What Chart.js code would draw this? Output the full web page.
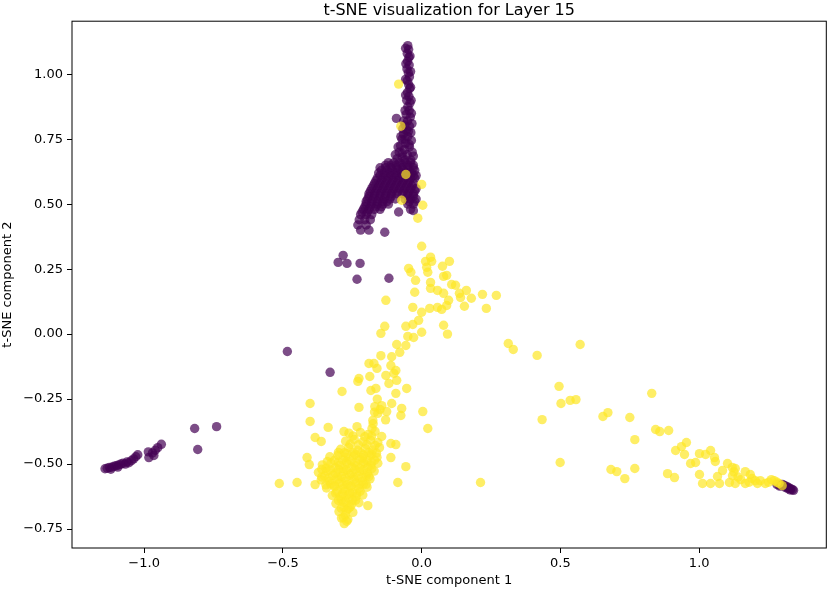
<!DOCTYPE html>
<html>
<head>
<meta charset="utf-8">
<script src="https://cdn.jsdelivr.net/npm/chart.js@4/dist/chart.umd.min.js"></script>
<style>
  body { margin: 0; background: #fff; }
  #wrap { width: 831px; height: 591px; }
</style>
</head>
<body>
<div id="wrap"><canvas id="myChart"></canvas></div>
<script>
// t-SNE points, grouped by region
const purpleTower = [
  [-0.050,1.110],[-0.047,1.095],[-0.052,1.080],[-0.046,1.065],[-0.051,1.050],[-0.045,1.035],[-0.053,1.020],
  [-0.048,1.005],[-0.044,0.990],[-0.052,0.975],[-0.047,0.960],[-0.043,0.945],[-0.051,0.930],[-0.046,0.915],
  [-0.054,0.900],[-0.042,0.890],[-0.050,0.875],[-0.045,0.860],[-0.056,0.845],[-0.041,0.835],[-0.051,0.820],
  [-0.060,0.805],[-0.044,0.800],[-0.055,0.785],[-0.039,0.775],[-0.066,0.770],[-0.050,0.760],[-0.071,0.750],
  [-0.037,0.745],[-0.058,0.735],[-0.076,0.725],[-0.044,0.720],[-0.062,0.710],[-0.081,0.700],[-0.034,0.700],
  [-0.052,0.690],[-0.070,0.680],[-0.088,0.675],[-0.039,0.670],[-0.091,0.830],
  [-0.058,1.100],[-0.042,1.070],[-0.057,1.040],[-0.040,1.010],[-0.058,0.980],[-0.040,0.950],[-0.058,0.920],
  [-0.038,0.900],[-0.060,0.860],[-0.037,0.850],[-0.065,0.820],[-0.035,0.810],[-0.068,0.790],[-0.048,0.780],
  [-0.075,0.760],[-0.060,0.750],[-0.045,0.730],[-0.085,0.720],[-0.070,0.695],[-0.095,0.690],[-0.030,0.685],
  [-0.060,0.670],
  [-0.12,0.66],[-0.10,0.66],[-0.08,0.66],[-0.06,0.66],[-0.04,0.66],
  [-0.13,0.65],[-0.11,0.65],[-0.09,0.65],[-0.07,0.65],[-0.05,0.65],[-0.03,0.65],
  [-0.15,0.64],[-0.13,0.64],[-0.11,0.64],[-0.09,0.64],[-0.07,0.64],[-0.05,0.64],[-0.03,0.64],
  [-0.145,0.63],[-0.125,0.63],[-0.105,0.63],[-0.085,0.63],[-0.065,0.63],[-0.045,0.63],
  [-0.155,0.62],[-0.135,0.62],[-0.115,0.62],[-0.095,0.62],[-0.075,0.62],[-0.055,0.62],[-0.035,0.62],
  [-0.15,0.61],[-0.13,0.61],[-0.11,0.61],[-0.09,0.61],[-0.07,0.61],[-0.05,0.61],[-0.03,0.61],
  [-0.16,0.60],[-0.14,0.60],[-0.12,0.60],[-0.10,0.60],[-0.08,0.60],[-0.06,0.60],[-0.04,0.60],[-0.025,0.60],
  [-0.165,0.59],[-0.145,0.59],[-0.125,0.59],[-0.105,0.59],[-0.085,0.59],[-0.065,0.59],[-0.045,0.59],
  [-0.17,0.58],[-0.15,0.58],[-0.13,0.58],[-0.11,0.58],[-0.09,0.58],[-0.07,0.58],[-0.05,0.58],[-0.03,0.58],
  [-0.175,0.57],[-0.155,0.57],[-0.135,0.57],[-0.115,0.57],[-0.095,0.57],[-0.075,0.57],[-0.055,0.57],[-0.035,0.57],
  [-0.18,0.56],[-0.16,0.56],[-0.14,0.56],[-0.12,0.56],[-0.10,0.56],[-0.08,0.56],[-0.06,0.56],[-0.04,0.56],[-0.02,0.56],
  [-0.185,0.55],[-0.165,0.55],[-0.145,0.55],[-0.125,0.55],[-0.105,0.55],[-0.085,0.55],[-0.065,0.55],[-0.045,0.55],[-0.025,0.55],
  [-0.19,0.54],[-0.17,0.54],[-0.15,0.54],[-0.13,0.54],[-0.11,0.54],[-0.09,0.54],[-0.07,0.54],[-0.05,0.54],[-0.03,0.54],
  [-0.19,0.53],[-0.17,0.53],[-0.15,0.53],[-0.13,0.53],[-0.11,0.53],[-0.05,0.53],[-0.03,0.53],
  [-0.195,0.52],[-0.175,0.52],[-0.155,0.52],[-0.135,0.52],[-0.115,0.52],[-0.095,0.52],[-0.06,0.52],[-0.04,0.52],[-0.02,0.52],
  [-0.20,0.51],[-0.18,0.51],[-0.16,0.51],[-0.14,0.51],[-0.125,0.51],[-0.045,0.51],[-0.025,0.51],
  [-0.20,0.50],[-0.18,0.50],[-0.16,0.50],[-0.14,0.50],[-0.12,0.50],[-0.05,0.50],[-0.03,0.50],
  [-0.205,0.49],[-0.185,0.49],[-0.165,0.49],[-0.145,0.49],
  [-0.21,0.48],[-0.19,0.48],[-0.17,0.48],[-0.15,0.48],[-0.04,0.48],
  [-0.215,0.47],[-0.195,0.47],
  [-0.22,0.46],[-0.20,0.46],[-0.18,0.46],
  [-0.225,0.44],[-0.205,0.44],[-0.185,0.44],
  [-0.23,0.42],[-0.20,0.42],[-0.22,0.40],[-0.19,0.40],
  [-0.133,0.392],[-0.083,0.47],[-0.025,0.63],[-0.02,0.61],[-0.03,0.475]
];
const purpleStray = [
  [-0.283,0.303],[-0.301,0.276],[-0.269,0.272],[-0.222,0.272],[-0.233,0.211],[-0.118,0.215],
  [-0.484,-0.067],[-0.330,-0.147]
];
const purpleLeftArm = [
  [-1.141,-0.518],[-1.133,-0.516],[-1.125,-0.513],[-1.116,-0.512],[-1.108,-0.508],[-1.100,-0.506],
  [-1.092,-0.503],[-1.084,-0.500],[-1.076,-0.497],[-1.068,-0.500],[-1.062,-0.492],[-1.055,-0.495],
  [-1.046,-0.487],[-1.038,-0.480],[-1.030,-0.472],[-1.023,-0.464],[-1.120,-0.520],[-1.095,-0.512],
  [-0.985,-0.453],[-0.983,-0.475],[-0.970,-0.457],[-0.965,-0.467],[-0.951,-0.437],[-0.938,-0.424],
  [-0.960,-0.447],[-0.818,-0.363],[-0.807,-0.444],[-0.739,-0.356]
];
const purpleTip = [
  [1.280,-0.578],[1.290,-0.585],[1.300,-0.578],[1.306,-0.582],[1.312,-0.585],[1.318,-0.588],
  [1.324,-0.592],[1.330,-0.595],[1.336,-0.599],[1.340,-0.601],[1.310,-0.590],[1.320,-0.595],
  [1.295,-0.583],[1.328,-0.600]
];

const yellowInTower = [
  [-0.083,0.962],[-0.075,0.800],[-0.057,0.614],[-0.072,0.515],[0.000,0.576],[0.004,0.496],
  [-0.014,0.446],[0.000,0.338]
];
const yellowStream = [
  [0.032,0.296],[0.036,0.280],[0.014,0.280],[0.100,0.280],[0.075,0.261],[0.018,0.257],[-0.047,0.253],
  [-0.039,0.238],[0.022,0.238],[0.079,0.222],[0.090,0.226],[-0.022,0.207],[0.032,0.199],[0.108,0.191],
  [0.122,0.188],[0.032,0.176],[0.057,0.168],[-0.025,0.161],[0.079,0.157],[0.136,0.157],[0.161,0.168],
  [0.219,0.153],[0.269,0.149],[0.179,0.138],[0.140,0.141],[0.097,0.130],[0.090,0.110],[0.154,0.107],
  [0.233,0.099],[0.057,0.103],[0.072,0.095],[0.029,0.099],[-0.032,0.103],[0.000,0.084],[-0.129,0.130],
  [-0.011,0.053],[-0.032,0.037],[-0.057,0.030],[0.079,0.034],[0.093,0.000],[0.000,0.007],[-0.029,-0.013],
  [-0.050,-0.009],[-0.090,-0.040],[-0.057,-0.044],[-0.079,-0.070],[-0.133,0.030],[-0.147,0.003],
  [-0.147,-0.083],[-0.108,-0.087],[0.312,-0.036],[0.330,-0.059],[0.416,-0.082],[0.571,-0.040]
];
const yellowDownStream = [
  [-0.190,-0.113],[-0.172,-0.113],[-0.161,-0.132],[-0.111,-0.121],[-0.093,-0.140],[-0.129,-0.159],
  [-0.226,-0.171],[-0.187,-0.163],[-0.230,-0.182],[-0.100,-0.151],[-0.090,-0.178],[-0.118,-0.190],
  [-0.054,-0.209],[-0.165,-0.209],[-0.183,-0.217],[-0.093,-0.228],[-0.287,-0.221],[-0.402,-0.267],
  [-0.226,-0.282],[-0.169,-0.279],[-0.144,-0.275],[-0.108,-0.267],[-0.072,-0.286],[-0.126,-0.298],
  [-0.075,-0.313],[-0.158,-0.305],[0.004,-0.298],[-0.402,-0.336],[-0.176,-0.332],[-0.179,-0.363],
  [-0.337,-0.359],[-0.233,-0.356],[0.022,-0.363],[-0.280,-0.375],[-0.384,-0.398],[-0.362,-0.413],
  [-0.144,-0.394],[-0.111,-0.421],[-0.093,-0.425],[-0.413,-0.475],[-0.405,-0.502],[-0.111,-0.475],
  [-0.057,-0.510],[-0.449,-0.571],[-0.513,-0.575],[-0.384,-0.579],[-0.086,-0.571],[-0.194,-0.660],
  [-0.160,-0.250],[-0.170,-0.300],[-0.175,-0.345],[-0.150,-0.290],[-0.130,-0.330]
];
const yellowBlob = [
  [-0.262,-0.381],[-0.221,-0.378],[-0.193,-0.386],[-0.168,-0.374],
  [-0.274,-0.412],[-0.243,-0.405],[-0.212,-0.414],[-0.184,-0.408],[-0.158,-0.417],
  [-0.292,-0.443],[-0.263,-0.436],[-0.231,-0.447],[-0.203,-0.440],[-0.176,-0.446],[-0.152,-0.437],
  [-0.331,-0.472],[-0.302,-0.466],[-0.274,-0.474],[-0.245,-0.469],[-0.214,-0.476],[-0.186,-0.468],[-0.161,-0.474],
  [-0.358,-0.503],[-0.327,-0.497],[-0.296,-0.505],[-0.268,-0.499],[-0.239,-0.506],[-0.209,-0.498],[-0.183,-0.504],[-0.158,-0.497],
  [-0.372,-0.532],[-0.342,-0.527],[-0.311,-0.535],[-0.283,-0.529],[-0.254,-0.536],[-0.224,-0.528],[-0.196,-0.534],[-0.171,-0.527],
  [-0.362,-0.561],[-0.333,-0.566],[-0.302,-0.558],[-0.273,-0.565],[-0.243,-0.559],[-0.214,-0.566],[-0.186,-0.557],
  [-0.343,-0.592],[-0.314,-0.587],[-0.284,-0.595],[-0.254,-0.588],[-0.226,-0.594],[-0.197,-0.589],
  [-0.322,-0.621],[-0.294,-0.626],[-0.265,-0.618],[-0.236,-0.625],[-0.212,-0.619],
  [-0.309,-0.652],[-0.281,-0.647],[-0.252,-0.655],[-0.226,-0.649],
  [-0.298,-0.683],[-0.271,-0.678],[-0.248,-0.686],
  [-0.289,-0.708],[-0.266,-0.713],[-0.279,-0.729],
  [-0.315,-0.486],[-0.285,-0.484],[-0.255,-0.488],[-0.225,-0.483],[-0.197,-0.487],[-0.170,-0.485],
  [-0.345,-0.516],[-0.312,-0.514],[-0.282,-0.518],[-0.252,-0.513],[-0.223,-0.517],[-0.194,-0.512],
  [-0.350,-0.546],[-0.320,-0.544],[-0.289,-0.548],[-0.259,-0.543],[-0.229,-0.547],[-0.200,-0.545],
  [-0.328,-0.576],[-0.298,-0.574],[-0.268,-0.578],[-0.238,-0.573],[-0.210,-0.577],
  [-0.305,-0.606],[-0.277,-0.604],[-0.248,-0.608],[-0.222,-0.605],
  [-0.290,-0.637],[-0.262,-0.634],[-0.238,-0.639],[-0.280,-0.667],[-0.258,-0.665],[-0.275,-0.697],
  [-0.248,-0.392],[-0.205,-0.395],[-0.180,-0.392],[-0.258,-0.424],[-0.228,-0.426],[-0.198,-0.425],
  [-0.168,-0.428],[-0.278,-0.456],[-0.248,-0.455],[-0.218,-0.458],[-0.190,-0.455],[-0.163,-0.458],
  [-0.300,-0.455],[-0.270,-0.460],[-0.240,-0.462],[-0.210,-0.465],[-0.180,-0.462],
  [-0.340,-0.490],[-0.300,-0.492],[-0.270,-0.490],[-0.240,-0.494],[-0.210,-0.490],[-0.180,-0.493],
  [-0.360,-0.520],[-0.330,-0.522],[-0.300,-0.520],[-0.270,-0.523],[-0.240,-0.520],[-0.210,-0.522],[-0.180,-0.518],
  [-0.360,-0.550],[-0.335,-0.553],[-0.305,-0.550],[-0.275,-0.553],[-0.245,-0.550],[-0.215,-0.552],[-0.190,-0.548],
  [-0.345,-0.580],[-0.315,-0.582],[-0.285,-0.580],[-0.255,-0.583],[-0.225,-0.580],[-0.200,-0.578],
  [-0.310,-0.612],[-0.285,-0.615],[-0.260,-0.612],[-0.235,-0.614],
  [-0.300,-0.640],[-0.275,-0.642],[-0.250,-0.640],
  [-0.290,-0.670],[-0.265,-0.672],[-0.282,-0.705],[-0.270,-0.720]
];
const yellowRightArm = [
  [0.495,-0.201],[0.502,-0.267],[0.535,-0.255],[0.556,-0.252],[0.434,-0.329],[0.653,-0.317],
  [0.671,-0.302],[0.750,-0.321],[0.829,-0.228],[0.768,-0.406],[0.843,-0.367],[0.858,-0.375],
  [0.890,-0.371],[0.499,-0.494],[0.212,-0.571],[0.682,-0.521],[0.703,-0.529],[0.768,-0.517],
  [0.732,-0.556],[0.915,-0.448],[0.936,-0.433],[0.954,-0.417],[0.947,-0.463],[0.969,-0.498],
  [0.987,-0.494],[1.001,-0.460],[1.023,-0.463],[1.041,-0.448],[1.055,-0.475],[1.058,-0.490],
  [1.102,-0.498],[0.886,-0.537],[0.911,-0.552],[1.001,-0.540],[1.012,-0.575],[1.041,-0.575],
  [1.073,-0.575],[1.066,-0.548],[1.084,-0.525],[1.109,-0.571],[1.119,-0.513],[1.130,-0.575],
  [1.130,-0.517],[1.166,-0.529],[1.166,-0.575],[1.184,-0.540],[1.202,-0.564],[1.220,-0.564],
  [1.238,-0.575],[1.270,-0.564],[1.288,-0.575],[1.299,-0.583],
  [1.120,-0.545],[1.140,-0.550],[1.150,-0.560],[1.125,-0.530],[1.180,-0.570],[1.190,-0.555],
  [1.210,-0.575],[1.250,-0.570],[1.260,-0.560],[1.280,-0.570]
];

const xTicks = [-1.0, -0.5, 0.0, 0.5, 1.0];
const xTickLabels = ["\u22121.0", "\u22120.5", "0.0", "0.5", "1.0"];
const yTicks = [-0.75, -0.5, -0.25, 0, 0.25, 0.5, 0.75, 1.0];
const yTickLabels = ["\u22120.75", "\u22120.50", "\u22120.25", "0.00", "0.25", "0.50", "0.75", "1.00"];

const xRange = [-1.26, 1.458];
const yRange = [-0.823, 1.204];

function toPoints(list) {
  return list.map(p => ({ x: p[0], y: p[1] }));
}

const purpleAll = [].concat(purpleLeftArm, purpleStray, purpleTower, purpleTip);
const yellowAll = [].concat(yellowInTower, yellowStream, yellowDownStream, yellowBlob, yellowRightArm);

// matplotlib-like full box around the axes
const frame = {
  id: "frame",
  afterDraw(chart) {
    const { ctx, chartArea } = chart;
    ctx.save();
    ctx.strokeStyle = "#000";
    ctx.lineWidth = 1;
    ctx.strokeRect(chartArea.left, chartArea.top, chartArea.right - chartArea.left, chartArea.bottom - chartArea.top);
    ctx.restore();
  }
};

const font = "'DejaVu Sans', sans-serif";
const ctx = document.getElementById("myChart");

new Chart(ctx, {
  type: "scatter",
  data: {
    datasets: [
      {
        label: "1",
        data: toPoints(yellowAll),
        backgroundColor: "rgba(253, 231, 37, 0.7)",
        pointRadius: 4.7,
        pointBorderWidth: 0,
      },
      {
        label: "0",
        data: toPoints(purpleAll),
        backgroundColor: "rgba(68, 1, 84, 0.7)",
        pointRadius: 4.7,
        pointBorderWidth: 0,
      },
    ],
  },
  options: {
    responsive: true,
    maintainAspectRatio: false,
    animation: false,
    layout: { padding: { left: 0, right: 3, top: 0, bottom: 0 } },
    plugins: {
      legend: { display: false },
      tooltip: { enabled: false },
      title: {
        display: true,
        text: "t-SNE visualization for Layer 15",
        fullSize: false,
        color: "#000",
        font: { family: font, size: 16, weight: "normal" },
        padding: { top: 1, bottom: 1 },
      },
    },
    scales: {
      x: {
        type: "linear",
        min: xRange[0],
        max: xRange[1],
        afterBuildTicks: (axis) => { axis.ticks = xTicks.map(v => ({ value: v })); },
        afterFit: (axis) => { axis.height = 43; },
        ticks: {
          color: "#000",
          padding: 3,
          maxRotation: 0,
          font: { family: font, size: 13 },
          callback: (v) => xTickLabels[xTicks.indexOf(v)],
        },
        grid: { display: true, drawOnChartArea: false, drawTicks: true, tickLength: 5, color: "#000" },
        border: { display: false },
        title: {
          display: true,
          text: "t-SNE component 1",
          color: "#000",
          font: { family: font, size: 13 },
          padding: { top: 0, bottom: 3 },
        },
      },
      y: {
        type: "linear",
        min: yRange[0],
        max: yRange[1],
        afterBuildTicks: (axis) => { axis.ticks = yTicks.map(v => ({ value: v })); },
        afterFit: (axis) => { axis.width = 72; },
        ticks: {
          color: "#000",
          padding: 4,
          font: { family: font, size: 13 },
          callback: (v) => yTickLabels[yTicks.indexOf(v)],
        },
        grid: { display: true, drawOnChartArea: false, drawTicks: true, tickLength: 5, color: "#000" },
        border: { display: false },
        title: {
          display: true,
          text: "t-SNE component 2",
          color: "#000",
          font: { family: font, size: 13 },
          padding: { top: 0, bottom: 0 },
        },
      },
    },
  },
  plugins: [frame],
});
</script>
</body>
</html>
